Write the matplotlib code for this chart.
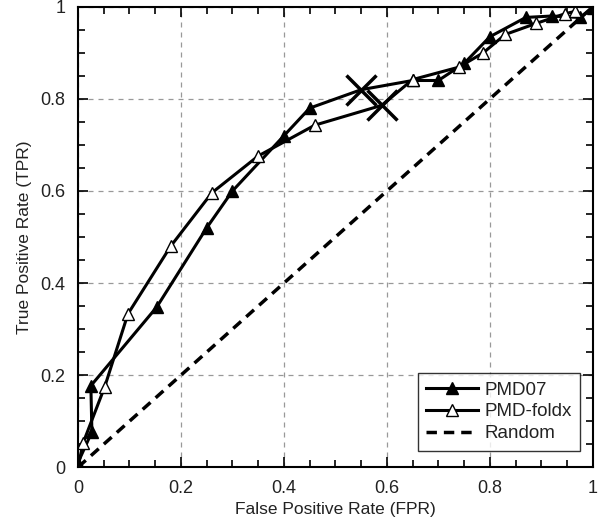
import numpy as np
import matplotlib.pyplot as plt
from matplotlib.ticker import MultipleLocator

plt.rcParams['font.family'] = ['Liberation Sans', 'DejaVu Sans']

# ROC curve points
pmd07_fpr = [0.0, 0.027, 0.025, 0.153, 0.25, 0.30, 0.40, 0.45, 0.55, 0.65, 0.70, 0.75, 0.80, 0.87, 0.92, 0.975, 1.0]
pmd07_tpr = [0.01, 0.077, 0.177, 0.348, 0.52, 0.60, 0.72, 0.78, 0.82, 0.84, 0.84, 0.877, 0.935, 0.977, 0.98, 0.977, 0.997]
pmd07_cut = 8  # index of the operating point (cross)

foldx_fpr = [0.0, 0.01, 0.052, 0.097, 0.18, 0.26, 0.35, 0.46, 0.59, 0.65, 0.74, 0.787, 0.83, 0.89, 0.946, 0.965]
foldx_tpr = [0.0, 0.053, 0.175, 0.333, 0.48, 0.596, 0.676, 0.743, 0.786, 0.842, 0.869, 0.90, 0.94, 0.964, 0.985, 0.99]
foldx_cut = 8

random_x = [0.0, 1.0]
random_y = [0.0, 1.0]

txt = '#222222'

fig = plt.figure(figsize=(6, 5.25), dpi=100)
ax = fig.add_axes([0.13, 0.11, 0.858, 0.877])

ax.grid(True, which='major', linestyle=(0, (4, 4)), color='#999999', linewidth=0.9)
ax.set_axisbelow(True)

every07 = [i for i in range(len(pmd07_fpr)) if i != pmd07_cut]
everyfx = [i for i in range(len(foldx_fpr)) if i != foldx_cut]
ax.plot(pmd07_fpr, pmd07_tpr, color='black', lw=2.2, marker='^', ms=9, markevery=every07,
        mfc='black', mec='black', label='PMD07')
ax.plot(foldx_fpr, foldx_tpr, color='black', lw=2.2, marker='^', ms=9, markevery=everyfx,
        mfc='white', mec='black', mew=1.0, label='PMD-foldx')
ax.plot(random_x, random_y, color='black', lw=2.5, linestyle=(0, (3, 2)), label='Random')

# operating points
ax.plot(pmd07_fpr[pmd07_cut], pmd07_tpr[pmd07_cut], marker='x', ms=22, mew=2.5, color='black')
ax.plot(foldx_fpr[foldx_cut], foldx_tpr[foldx_cut], marker='x', ms=22, mew=2.5, color='black')

ax.set_xlim(0, 1)
ax.set_ylim(0, 1)
ax.xaxis.set_major_locator(MultipleLocator(0.2))
ax.yaxis.set_major_locator(MultipleLocator(0.2))
ax.xaxis.set_minor_locator(MultipleLocator(0.05))
ax.yaxis.set_minor_locator(MultipleLocator(0.05))
ax.xaxis.set_major_formatter(plt.FuncFormatter(lambda v, p: f'{v:g}'))
ax.yaxis.set_major_formatter(plt.FuncFormatter(lambda v, p: f'{v:g}'))
ax.tick_params(which='both', direction='in', top=True, right=True, labelsize=13,
               labelcolor=txt, width=1.2)
ax.tick_params(which='major', length=7, pad=9)
ax.tick_params(which='minor', length=5)
for s in ax.spines.values():
    s.set_linewidth(1.5)

ax.set_xlabel('False Positive Rate (FPR)', fontsize=12.5, color=txt, labelpad=4)
ax.set_ylabel('True Positive Rate (TPR)', fontsize=12.5, color=txt, labelpad=6)

leg = ax.legend(loc='lower right', bbox_to_anchor=(0.975, 0.036), fontsize=13.5, frameon=True,
                fancybox=False, edgecolor='black', handlelength=2.8, borderpad=0.45,
                labelspacing=0.25, handletextpad=0.3, borderaxespad=0)
leg.get_frame().set_linewidth(1.0)
for t in leg.get_texts():
    t.set_color(txt)

fig.savefig('out.png', dpi=100)
